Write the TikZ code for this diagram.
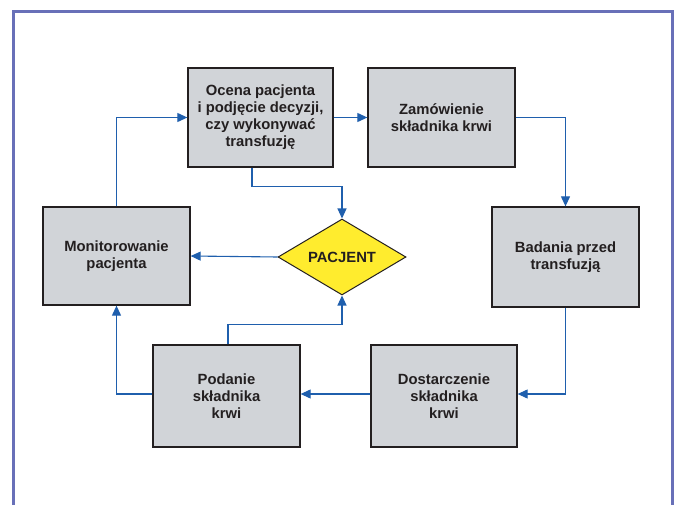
\documentclass[tikz,border=0pt]{standalone}
\usepackage{fontspec}
\setmainfont{Liberation Sans}
\usetikzlibrary{arrows.meta, positioning, shapes.geometric}
\definecolor{cframe}{HTML}{6870B8}
\definecolor{cbox}{HTML}{D1D4D8}
\definecolor{cedge}{HTML}{231F20}
\definecolor{cflow}{HTML}{1F5FAD}
\definecolor{cyellow}{HTML}{FFEC2E}
\tikzset{
  every picture/.style={font=\bfseries\fontsize{14.8}{17}\selectfont},
  stage/.style={draw=cedge, fill=cbox, line width=1.3pt, align=center, inner sep=3pt,
                text=cedge, minimum width=147pt, minimum height=99pt},
  flow/.style={-{Triangle[length=10pt, width=9pt]}, draw=cflow, line width=1.1pt},
}
\begin{document}
\begin{tikzpicture}[x=1pt, y=-1pt]
  \useasboundingbox (0,0) rectangle (677,505);
  % frame, open at the bottom
  \draw[cframe, line width=2.8pt] (13.5,505) -- (13.5,11.5) -- (672.5,11.5) -- (672.5,505);

  % stages
  \node[stage, minimum width=145pt] (oc) at (260.5,117.5) {Ocena pacjenta\\i podjęcie decyzji,\\czy wykonywać\\transfuzję};
  \node[stage] (zam) at (441.5,117.5) {Zamówienie\\składnika krwi};
  \node[stage, minimum height=100pt] (bad) at (565.5,257) {Badania przed\\transfuzją};
  \node[stage, minimum width=146pt, minimum height=102pt] (dos) at (444,396) {Dostarczenie\\składnika\\krwi};
  \node[stage, minimum height=102pt] (pod) at (226.5,396) {Podanie\\składnika\\krwi};
  \node[stage, minimum height=98pt] (mon) at (116.5,256) {Monitorowanie\\pacjenta};
  \node[diamond, draw=cedge, fill=cyellow, text=cedge, line width=1pt, inner sep=0pt, aspect=1.7,
        minimum width=128pt, minimum height=76pt] (pac) at (342,257) {PACJENT};

  % cycle
  \draw[flow] (mon.north) |- (oc.west);
  \draw[flow] (oc.east) -- (zam.west);
  \draw[flow] (zam.east) -| (bad.north);
  \draw[flow] (bad.south) |- ([yshift=2pt]dos.east);
  \draw[flow] ([yshift=2pt]dos.west) -- ([yshift=2pt]pod.east);
  \draw[flow] ([yshift=2pt]pod.west) -| (mon.south);

  % links to the patient
  \draw[flow] ([xshift=-8.5pt]oc.south) -- ++(0,19) -| (pac.north);
  \draw[flow] ([xshift=1.5pt]pod.north) -- ++(0,-20) -| (pac.south);
  \draw[flow] (pac.west) -- (mon.east);
\end{tikzpicture}
\end{document}
